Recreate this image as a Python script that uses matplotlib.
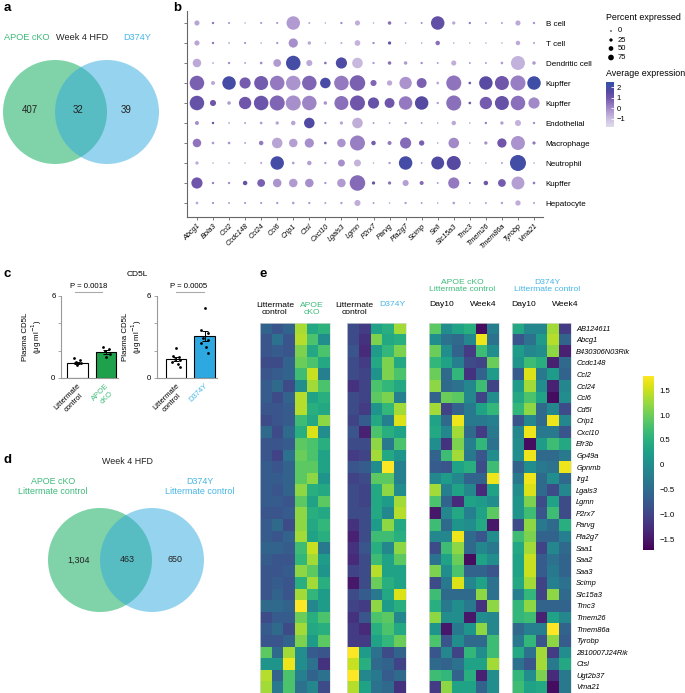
import numpy as np
import matplotlib
matplotlib.use('Agg')
import matplotlib.pyplot as plt
from matplotlib.colors import LinearSegmentedColormap, Normalize
from matplotlib.patches import Circle
from matplotlib.cm import ScalarMappable

plt.rcParams['font.family'] = ['Liberation Sans', 'DejaVu Sans']
plt.rcParams['axes.unicode_minus'] = True

# ---------------- data ----------------
# panel a
venn_a_counts = [407, 32, 39]
venn_a_labels = ['APOE cKO', 'Week 4 HFD', 'D374Y']
# panel d
venn_d_counts = ['1,304', '463', '650']

# panel b (dot plot)
genes_b = ['Abcg1', 'Bola3', 'Ccl2', 'Ccdc148', 'Ccl24', 'Ccl6', 'Crip1', 'Ctsl', 'Cxcl10',
           'Lgals3', 'Lgmn', 'P2rx7', 'Parvg', 'Pla2g7', 'Scimp', 'Sell', 'Slc15a3', 'Tmc3',
           'Tmem26', 'Tmem86a', 'Tyrobp', 'Vma21']
cells_b = ['B cell', 'T cell', 'Dendritic cell', 'Kupffer', 'Kupffer', 'Endothelial',
           'Macrophage', 'Neutrophil', 'Kupffer', 'Hepatocyte']
pct_b = [
    [15, 4, 3, 2, 3, 3, 75, 3, 2, 4, 15, 2, 8, 3, 3, 75, 7, 4, 3, 3, 15, 4],
    [15, 4, 2, 3, 2, 4, 40, 8, 2, 3, 18, 4, 7, 2, 2, 12, 2, 2, 2, 2, 12, 3],
    [35, 3, 4, 3, 5, 30, 85, 20, 5, 55, 50, 4, 8, 8, 4, 3, 15, 3, 3, 5, 80, 8],
    [85, 10, 75, 55, 80, 85, 85, 85, 50, 85, 95, 20, 16, 65, 45, 5, 90, 5, 75, 80, 90, 75],
    [85, 20, 8, 65, 85, 90, 90, 85, 8, 80, 90, 55, 45, 75, 75, 4, 90, 5, 65, 80, 85, 55],
    [10, 4, 2, 3, 5, 7, 12, 50, 4, 7, 50, 3, 3, 4, 3, 2, 12, 2, 4, 7, 20, 4],
    [35, 5, 5, 3, 12, 50, 35, 40, 5, 35, 90, 12, 10, 55, 16, 2, 50, 2, 7, 40, 80, 7],
    [7, 2, 2, 2, 3, 75, 5, 12, 4, 25, 25, 2, 4, 75, 3, 70, 80, 2, 2, 3, 100, 2],
    [55, 4, 4, 12, 30, 35, 35, 35, 4, 35, 95, 7, 7, 20, 10, 3, 55, 3, 12, 30, 70, 5],
    [5, 3, 3, 3, 3, 4, 5, 4, 3, 4, 20, 3, 2, 4, 3, 2, 5, 2, 3, 4, 16, 3],
]
avg_b = [
    [-0.5, 0.5, 0, -0.5, 0, 0, -0.3, -0.5, -0.5, 0, -0.7, -0.5, 0.5, -0.5, 0, 1.3, -0.5, 0.3, -0.3, -0.3, -0.6, -0.1],
    [-0.5, 0.5, 0, 0.2, -0.3, -0.3, -0.1, -0.6, -0.3, -0.5, -0.8, 0, 1.2, -0.5, -0.3, 0.5, -0.5, -0.5, -0.5, -0.5, -0.6, -0.3],
    [-0.6, -0.8, 0, -0.5, 0, -0.3, 2.0, -0.6, 0.5, 1.8, -0.9, -0.3, 0.5, -0.3, 0, -0.3, -0.7, -0.3, -0.3, -0.3, -0.8, -0.3],
    [0.8, -0.6, 2.0, 0.9, 0.9, 0.3, -0.2, 0.7, 1.9, 0.3, 0.8, 0.7, -0.6, -0.2, 0.8, -0.5, 0.4, 1.0, 1.5, 1.0, 0.2, 2.2],
    [1.2, 1.0, -0.3, 1.0, 1.1, 0.7, -0.1, 0.1, -0.2, 0.5, 1.0, 1.2, 1.0, 0.3, 1.6, -0.3, 0.5, 1.0, 0.9, 1.2, 0.5, 0.0],
    [-0.1, 1.5, 0, -0.3, -0.3, -0.4, -0.5, 1.7, 0, -0.5, -0.7, -0.3, -0.5, -0.3, -0.3, -0.3, -0.6, -0.3, 0.3, -0.3, -0.8, 0],
    [0.4, -0.3, -0.2, -0.5, 0.3, -0.5, -0.4, -0.1, 0.8, -0.2, 0.2, 0.9, 0.3, 0.6, 0.8, -0.3, 0.0, -0.3, -0.1, 1.0, -0.2, 0.3],
    [-0.6, -0.5, -0.3, -0.5, -0.3, 2.0, -0.3, -0.4, -0.3, -0.1, -0.8, -0.5, -0.2, 2.0, -0.5, 1.7, 1.6, -0.3, -0.3, -0.3, 2.1, -0.3],
    [1.0, 0.3, 0, 1.2, 0.8, -0.2, -0.3, -0.1, -0.2, -0.3, 0.6, 1.2, 0.5, -0.4, 0.6, -0.3, 0.3, 1.0, 1.0, 0.9, -0.4, 0.3],
    [-0.5, 0.3, -0.3, 0, 0, -0.3, -0.4, -0.3, -0.3, -0.3, -0.7, -0.3, -0.3, -0.3, -0.3, -0.3, -0.4, -0.3, -0.3, -0.3, -0.7, -0.3],
]
legend_pct = [0, 25, 50, 75]
avg_ticks = [2, 1, 0, -1]

# panel c
c_groups_left = ['Littermate\ncontrol', 'APOE\ncKO']
c_groups_right = ['Littermate\ncontrol', 'D374Y']
c_means_left = [1.12, 1.90]
c_means_right = [1.39, 3.09]
c_pts_left = [[1.44, 1.31, 1.17, 1.07, 0.95], [2.28, 2.12, 1.97, 1.73, 1.55]]
c_pts_right = [[2.17, 1.61, 1.51, 1.40, 1.31, 1.15, 1.02, 0.82],
               [5.13, 3.50, 3.30, 2.90, 2.77, 2.53, 2.28, 1.80]]
c_pvals = ['P = 0.0018', 'P = 0.0005']
c_yticks = [0, 2, 4, 6]
c_yticklabels = ['0', '', '', '6']

# panel e (heatmap)
genes_e = ['AB124611', 'Abcg1', 'B430306N03Rik', 'Ccdc148', 'Ccl2', 'Ccl24', 'Ccl6', 'Cd5l',
           'Crip1', 'Cxcl10', 'Efr3b', 'Gp49a', 'Gpnmb', 'Irg1', 'Lgals3', 'Lgmn', 'P2rx7',
           'Parvg', 'Pla2g7', 'Saa1', 'Saa2', 'Saa3', 'Scimp', 'Slc15a3', 'Tmc3', 'Tmem26',
           'Tmem86a', 'Tyrobp', '2810007J24Rik', 'Ctsl', 'Ugt2b37', 'Vma21']
heat_apoe = [
    [-0.6, -0.8, -0.6, 1.35, 0.4, 0.55], [-0.8, -0.4, -0.8, 1.4, 0.8, 0.0],
    [-0.8, -0.7, -0.8, 1.1, 0.4, 0.8], [-0.9, -0.9, -0.6, 1.0, 0.8, 0.4],
    [-0.8, -0.7, -0.6, 0.7, 1.5, -0.2], [-0.7, -0.5, -0.9, 0.0, 1.3, 0.8],
    [-0.7, -0.9, -0.6, 1.4, 0.3, 0.5], [-0.8, -0.8, -0.7, 1.4, 0.5, 0.4],
    [-0.9, -0.8, -0.7, 0.7, 0.4, 1.2], [-0.5, -0.9, -0.5, 0.5, 1.6, 0.0],
    [-0.8, -0.8, -0.7, 0.9, 0.8, 0.5], [-0.8, -1.0, -0.4, 1.0, 0.8, 0.3],
    [-0.7, -0.8, -0.6, 0.9, 0.9, 0.3], [-0.7, -0.7, -0.6, 0.9, 1.2, 0.1],
    [-0.7, -0.8, -0.6, 1.2, 0.5, 0.4], [-0.7, -0.7, -0.8, 0.9, 0.3, 0.9],
    [-0.8, -0.8, -0.7, 1.2, 0.5, 0.4], [-0.7, -0.5, -0.9, 1.2, 0.4, 0.6],
    [-0.7, -0.8, -0.6, 1.3, 0.3, 0.5], [-0.6, -0.6, -0.7, 0.7, 1.5, -0.3],
    [-0.7, -0.8, -0.8, 0.6, 1.3, 0.2], [-0.8, -0.8, -0.7, 1.2, 0.9, 0.1],
    [-0.8, -0.7, -0.8, 0.5, 1.3, 0.5], [-0.8, -0.6, -0.8, 1.3, 0.6, 0.2],
    [-0.5, -0.5, -0.6, 1.8, -0.1, 0.2], [-0.9, -0.7, -0.7, 1.0, 0.5, 0.8],
    [-0.7, -0.5, -0.9, 1.3, 0.4, 0.5], [-0.8, -0.8, -0.6, 1.1, 0.2, 0.9],
    [0.9, -0.5, 1.3, 0.0, -0.7, -0.8], [0.1, 0.1, 1.7, 0.0, -0.4, -1.2],
    [1.4, -0.6, 0.8, -0.2, -0.6, -0.4], [1.3, -0.3, 0.8, -0.4, -0.1, -0.9],
]
heat_d374y = [
    [-0.9, -1.1, 0.3, 0.5, 1.3], [-0.9, -1.2, 1.1, 0.4, 0.5],
    [-0.8, -1.3, 0.2, 0.6, 1.1], [-0.9, -1.1, 0.4, 1.1, 0.4],
    [-0.9, -1.0, 0.1, 1.1, 0.8], [-1.2, -1.0, 0.8, 0.6, 0.4],
    [-0.9, -1.0, 0.9, 1.1, -0.2], [-0.9, -1.1, 0.1, 0.6, 1.3],
    [-1.0, -0.7, 0.4, -0.2, 1.6], [-0.8, -1.4, 0.8, 0.5, 0.3],
    [-0.9, -0.9, 1.2, -0.3, 0.8], [-1.1, -1.0, 1.3, 0.4, 0.1],
    [-0.8, -0.7, 0.0, 1.8, -0.2], [-1.0, -0.9, 0.9, 0.9, -0.2],
    [-0.9, -1.0, 0.4, 1.2, 0.0], [-0.9, -1.0, 0.4, 0.2, 1.3],
    [-0.9, -0.9, 0.4, -0.1, 1.4], [-1.2, -0.9, 0.2, 1.2, 0.4],
    [-1.4, -0.9, 0.7, 0.7, 0.5], [-1.2, -0.8, 0.5, -0.1, 1.2],
    [-1.3, -0.9, 0.7, 0.3, 0.9], [-1.0, -0.9, 1.4, 0.3, 0.3],
    [-1.5, -0.9, 1.0, 0.5, 0.3], [-0.9, -0.7, -0.3, 0.4, 1.6],
    [-1.0, -1.1, 1.2, 0.2, 0.5], [-1.2, -0.8, 0.8, 0.9, -0.1],
    [-1.1, -1.3, 0.5, 0.8, 0.4], [-1.1, -1.1, 0.3, 0.6, 1.0],
    [1.8, 0.2, -0.4, -0.9, -0.6], [1.5, 0.5, -0.5, -0.6, -1.0],
    [1.8, -0.1, -0.3, -0.7, -0.5], [1.4, 0.3, -0.4, -0.5, -1.2],
]
heat_apoe_time = [
    [0.9, 0.0, 0.3, 0.5, -1.6, -0.2], [0.0, -0.4, -0.5, -0.1, 1.7, -0.4],
    [1.0, 0.0, -0.6, -1.1, 0.7, 0.0], [0.6, 0.3, -0.2, -0.9, -1.0, 1.0],
    [1.0, -0.5, 0.6, -1.2, -0.6, 0.2], [1.2, -0.5, -0.4, -0.1, 0.7, -1.0],
    [-0.6, 1.0, 0.9, -0.1, -1.0, 0.0], [1.3, -1.0, -0.6, -0.3, 0.3, 0.6],
    [0.3, -0.5, 1.7, -0.3, -0.3, -0.2], [0.4, -0.1, 1.3, -0.5, -1.1, -0.3],
    [0.0, -1.2, 1.1, -0.2, 0.6, -0.4], [-0.6, 0.7, 1.3, -0.3, -0.8, 0.0],
    [-0.7, -0.8, 0.3, 0.5, -0.9, 0.7], [-0.1, 0.2, -0.1, -0.6, -0.6, 1.7],
    [1.3, -0.2, 0.3, -0.1, -1.3, 0.3], [0.8, -0.6, -1.3, 0.3, 0.2, 0.0],
    [-1.5, -0.1, 0.4, -0.2, 0.3, 0.9], [0.7, -0.5, 0.1, 0.0, 0.4, -1.5],
    [-0.1, -0.1, 1.7, -0.5, -0.8, 0.0], [-0.9, 0.7, 1.2, -0.5, -0.1, -0.3],
    [-0.4, 0.3, 1.0, -1.6, 0.3, 0.0], [1.1, 0.0, 0.8, -0.6, -0.6, -0.8],
    [-0.9, -0.3, 1.6, -0.1, 0.3, -0.4], [0.7, -0.5, -0.5, -0.5, 1.2, -0.4],
    [0.5, -0.3, 0.0, -0.3, -1.2, 1.2], [1.2, 0.0, 0.0, -1.5, 0.0, -0.1],
    [0.1, -1.5, -0.3, 0.1, 1.2, -0.1], [0.8, -0.8, 0.0, -0.5, -0.5, 0.7],
    [-0.8, -0.1, -1.0, 0.6, 0.0, 0.7], [-0.5, -0.6, -0.4, 0.3, 0.3, 1.3],
    [0.7, 0.6, -0.6, 0.5, -1.4, 0.0], [-1.1, 1.2, 0.3, 0.3, -0.6, 0.0],
]
heat_d374y_time = [
    [0.4, -0.1, -0.1, 1.3, -1.1], [-0.8, -0.4, 0.2, 1.4, -0.6],
    [0.2, -0.1, 0.0, 1.2, -1.4], [0.1, 0.7, 0.5, -1.4, -0.5],
    [-0.7, 1.6, -0.3, 0.2, -0.6], [0.2, 1.3, 0.0, -1.4, -0.1],
    [0.4, 0.8, 0.3, -1.6, 0.0], [0.6, 1.2, -0.5, -0.1, -0.9],
    [-0.8, -0.1, -0.5, 1.7, -0.1], [-0.1, 1.7, -0.3, -0.3, -0.8],
    [0.0, -1.6, 0.2, 0.7, 0.4], [0.0, 1.7, -0.5, -0.5, -0.3],
    [-0.6, 0.0, -0.3, -0.4, 1.7], [-0.3, 1.7, -0.5, 0.0, -0.5],
    [0.0, 1.6, -0.5, -0.9, -0.1], [0.1, 1.1, -0.9, 0.3, -0.9],
    [0.1, 0.7, -0.8, 0.7, -0.9], [-0.9, 1.2, -0.3, -0.5, 0.5],
    [0.7, 1.1, -0.6, -0.6, -0.2], [0.4, 1.3, -1.0, -0.1, -0.5],
    [0.3, 1.5, -0.7, -0.4, -0.6], [0.3, 1.5, -0.7, -0.3, -0.6],
    [0.4, 1.3, -1.0, -0.2, -0.4], [-0.2, 0.6, -1.0, 1.2, -0.5],
    [0.6, 1.2, -0.6, -0.6, -0.6], [0.6, 0.7, -1.4, 0.3, -0.1],
    [-0.5, -0.2, -0.2, 1.8, -0.6], [-0.3, 0.6, -0.8, 1.2, -0.7],
    [0.4, -0.4, 1.3, -1.1, 0.0], [-0.4, -0.8, 1.3, -0.3, 0.4],
    [0.6, 0.0, 1.1, -1.3, -0.3], [0.7, 0.3, 0.4, -1.6, -0.3],
]
heat_ticks = [1.5, 1.0, 0.5, 0, -0.5, -1.0, -1.5]
heat_ticklabels = ['1.5', '1.0', '0.5', '0', '\u22120.5', '\u22121.0', '\u22121.5']

# ---------------- styling ----------------
GREEN_TXT = '#3dba7a'
BLUE_TXT = '#45b5e6'
GREEN_BAR = '#1fa04a'
BLUE_BAR = '#2ea8e0'
W, H = 685, 693
fig = plt.figure(figsize=(W / 100, H / 100), dpi=100)


def add_ax(x0, y0, x1, y1):
    return fig.add_axes([x0 / W, 1 - y1 / H, (x1 - x0) / W, (y1 - y0) / H])


def ftext(x, y, s, **kw):
    kw.setdefault('ha', 'center')
    kw.setdefault('va', 'center')
    return fig.text(x / W, 1 - y / H, s, **kw)


def venn(box, cx_l, cx_r, cy, r, nums, num_x, num_y, fs):
    ax = add_ax(*box)
    ax.set_xlim(box[0], box[2])
    ax.set_ylim(box[3], box[1])
    ax.axis('off')
    ax.add_patch(Circle((cx_l, cy), r, fc='#2bb76e', alpha=0.6, ec='none'))
    ax.add_patch(Circle((cx_r, cy), r, fc='#2fa9df', alpha=0.5, ec='none'))
    for n, x in zip(nums, num_x):
        ax.text(x, num_y, str(n), ha='center', va='center', fontsize=fs, color='#222222')


# ---------------- panel labels ----------------
for lab, x, y in [('a', 4, 8), ('b', 173, 8), ('c', 4, 274), ('d', 4, 460), ('e', 259, 274)]:
    ftext(x, y, lab, fontsize=9.5, fontweight='bold', ha='left')

# ---------------- panel a ----------------
ftext(27, 38, venn_a_labels[0], fontsize=6.6, color=GREEN_TXT)
ftext(82, 38, venn_a_labels[1], fontsize=6.6, color='#222222')
ftext(137, 38, venn_a_labels[2], fontsize=6.6, color=BLUE_TXT)
venn((0, 55, 170, 170), 55, 107, 112, 52, venn_a_counts, [30, 78, 126], 110, 7)

# ---------------- panel b ----------------
cmap_b = LinearSegmentedColormap.from_list('dp', [
    (0.0, '#e0dbec'), ((-1.0 + 1.8) / 4.3, '#cbbde0'), ((-0.3 + 1.8) / 4.3, '#b09ad0'),
    ((0.3 + 1.8) / 4.3, '#9479c0'), ((1.0 + 1.8) / 4.3, '#6f56aa'), ((1.6 + 1.8) / 4.3, '#5549a2'),
    (1.0, '#3350a8')])
norm_b = Normalize(-1.8, 2.5)
axb = add_ax(187, 11, 543, 217)
pct = np.array(pct_b, dtype=float)
avg = np.array(avg_b, dtype=float)
X, Y = np.meshgrid(np.arange(len(genes_b)), np.arange(len(cells_b)))
d_px = 16 * (pct / 100) ** 0.6
axb.scatter(X.ravel(), Y.ravel(), s=((d_px * 0.72) ** 2).ravel(), c=avg.ravel(),
            cmap=cmap_b, norm=norm_b, linewidths=0)
axb.set_xlim(-0.62, 21.56)
axb.set_ylim(9.7, -0.6)
for sp in ['top', 'right']:
    axb.spines[sp].set_visible(False)
for sp in ['left', 'bottom']:
    axb.spines[sp].set_color('#666666')
    axb.spines[sp].set_linewidth(0.8)
axb.set_xticks(range(len(genes_b)))
axb.set_xticklabels(genes_b, rotation=45, ha='right', rotation_mode='anchor',
                    fontsize=5.2, style='italic')
axb.set_yticks(range(len(cells_b)))
axb.set_yticklabels(cells_b, fontsize=5.8)
axb.tick_params(axis='x', length=2.5, width=0.6, color='#666666', pad=1.5)
axb.tick_params(axis='y', left=True, right=False, labelleft=False, labelright=True,
                length=2.5, width=0.6, color='#666666', pad=-0.5)

ftext(606, 18, 'Percent expressed', fontsize=6.4, ha='left')
leg_d = [1.5, 3.3, 4.7, 5.7]
leg_y = [31, 40, 48.5, 57.5]
axl = add_ax(600, 25, 640, 64)
axl.set_xlim(600, 640)
axl.set_ylim(64, 25)
axl.axis('off')
axl.scatter([611] * 4, leg_y, s=[(d * 0.72) ** 2 for d in leg_d], color='black', linewidths=0)
for p, y in zip(legend_pct, leg_y):
    axl.text(618, y, str(p), fontsize=5.5, va='center', ha='left')
ftext(606, 74, 'Average expression', fontsize=6.4, ha='left')
cax_b = add_ax(606, 82, 614, 127)
cb_b = fig.colorbar(ScalarMappable(norm=norm_b, cmap=cmap_b), cax=cax_b)
cb_b.outline.set_visible(False)
cb_b.set_ticks(avg_ticks)
cb_b.set_ticklabels([str(t).replace('-', '\u2212') for t in avg_ticks])
cb_b.ax.tick_params(length=2, width=0.6, color='white', direction='in', labelsize=5.5, pad=2)

# ---------------- panel c ----------------
ftext(137, 274, 'CD5L', fontsize=6)


def bar_panel(box, xlim, groups, means, pts, colors, lab_colors, pval, pline, ptx, jit, lab_x):
    ax = add_ax(*box)
    xs = np.arange(len(groups))
    ax.bar(xs, means, width=0.72, color=colors, edgecolor='black', linewidth=0.8, zorder=1)
    sems = [np.std(p, ddof=1) / np.sqrt(len(p)) for p in pts]
    ax.errorbar(xs, means, yerr=sems, fmt='none', ecolor='black', elinewidth=0.7,
                capsize=2.2, capthick=0.7, zorder=2)
    for i, p in enumerate(pts):
        ax.scatter(i + np.array(jit[:len(p)]), p, s=4, color='black', linewidths=0, zorder=3)
    ax.set_xlim(*xlim)
    ax.set_ylim(0, 6)
    for sp in ['top', 'right']:
        ax.spines[sp].set_visible(False)
    for sp in ['left', 'bottom']:
        ax.spines[sp].set_color('#999999')
        ax.spines[sp].set_linewidth(0.8)
    ax.set_yticks(c_yticks)
    ax.set_yticklabels(c_yticklabels, fontsize=5.6)
    ax.tick_params(axis='y', length=2.5, width=0.6, color='#999999', pad=1.5)
    ax.set_xticks(xs)
    ax.set_xticklabels(groups, rotation=45, ha='right', rotation_mode='anchor', fontsize=5.5,
                       multialignment='center')
    for t, c in zip(ax.get_xticklabels(), lab_colors):
        t.set_color(c)
    ax.tick_params(axis='x', length=0, pad=3)
    ax.set_ylabel('Plasma CD5L\n(\u03bcg ml$^{\u22121}$)', fontsize=5.7, linespacing=1.1)
    x0 = box[0]
    ax.yaxis.set_label_coords((lab_x - x0) / (box[2] - x0), 0.5)
    ax.plot(pline, [6.31, 6.31], color='#aaaaaa', lw=0.8, clip_on=False)
    ax.text(ptx, 6.66, pval, ha='center', va='center', fontsize=5.6)
    return ax


axc1 = bar_panel((61, 296, 118, 378), (-0.57, 1.42), c_groups_left, c_means_left, c_pts_left,
                 ['white', GREEN_BAR], ['black', GREEN_TXT], c_pvals[0], [-0.08, 0.85], 0.38,
                 [-0.12, 0.10, -0.05, 0.14, 0.0, -0.1, 0.06, 0.12], 44)
axc2 = bar_panel((156.7, 296, 217, 378), (-0.68, 1.43), c_groups_right, c_means_right, c_pts_right,
                 ['white', BLUE_BAR], ['black', BLUE_TXT], c_pvals[1], [-0.01, 0.98], 0.43,
                 [0.0, -0.12, 0.1, -0.05, 0.13, -0.14, 0.05, 0.12], 144)

# ---------------- panel d ----------------
ftext(127, 461, 'Week 4 HFD', fontsize=6.4, color='#222222')
ftext(53, 481, 'APOE cKO', fontsize=6.4, color=GREEN_TXT)
ftext(53, 491, 'Littermate control', fontsize=6.4, color=GREEN_TXT)
ftext(200, 481, 'D374Y', fontsize=6.4, color=BLUE_TXT)
ftext(200, 491, 'Littermate control', fontsize=6.4, color=BLUE_TXT)
venn((40, 500, 215, 620), 100, 152, 560, 52, venn_d_counts, [79, 127, 175], 560, 6.4)

# ---------------- panel e ----------------
vmin_e, vmax_e = -1.72, 1.79
blocks = [heat_apoe, heat_d374y, heat_apoe_time, heat_d374y_time]
block_x = [(260, 330), (347.3, 405.7), (429, 499), (512.3, 570.7)]
y_top, y_bot = 322.5, 692.7
axes_e = []
for data, (x0, x1) in zip(blocks, block_x):
    ax = add_ax(x0, y_top, x1, y_bot)
    ax.imshow(np.array(data), cmap='viridis', vmin=vmin_e, vmax=vmax_e, aspect='auto',
              interpolation='nearest')
    ax.set_xticks([])
    ax.set_yticks([])
    for sp in ax.spines.values():
        sp.set_color('#dddddd')
        sp.set_linewidth(0.5)
    axes_e.append(ax)
ax4 = axes_e[3]
ax4.yaxis.tick_right()
ax4.set_yticks(range(len(genes_e)))
ax4.set_yticklabels(genes_e, fontsize=5.4, style='italic')
ax4.tick_params(axis='y', length=0, pad=4)

hdr_fs = 6.1
ftext(275, 309, 'Littermate\ncontrol', fontsize=hdr_fs, linespacing=1.0)
ftext(312, 309, 'APOE\ncKO', fontsize=hdr_fs, color=GREEN_TXT, linespacing=1.0)
ftext(354, 309, 'Littermate\ncontrol', fontsize=hdr_fs, linespacing=1.0)
ftext(392, 304, 'D374Y', fontsize=hdr_fs, color=BLUE_TXT)
ftext(462, 286, 'APOE cKO\nLittermate control', fontsize=hdr_fs, color=GREEN_TXT, linespacing=1.0)
ftext(429, 304, 'Day10', fontsize=hdr_fs, ha='left')
ftext(497, 304, 'Week4', fontsize=hdr_fs, ha='right')
ftext(547, 286, 'D374Y\nLittermate control', fontsize=hdr_fs, color=BLUE_TXT, linespacing=1.0)
ftext(511, 304, 'Day10', fontsize=hdr_fs, ha='left')
ftext(565, 304, 'Week4', fontsize=hdr_fs)

cax_e = add_ax(643, 376, 654, 550)
cb_e = fig.colorbar(ScalarMappable(norm=Normalize(vmin_e, vmax_e), cmap='viridis'), cax=cax_e)
cb_e.outline.set_visible(False)
cb_e.set_ticks(heat_ticks)
cb_e.set_ticklabels(heat_ticklabels)
cb_e.ax.tick_params(length=0, labelsize=5.6, pad=4)

fig.savefig('out.png', dpi=100)
